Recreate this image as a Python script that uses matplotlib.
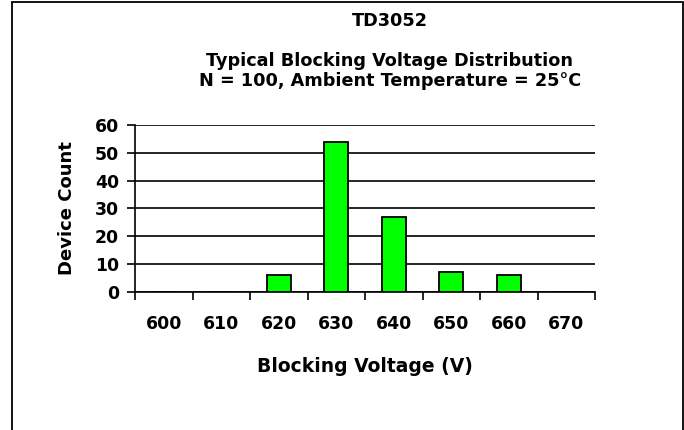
import matplotlib
matplotlib.use("Agg")
import matplotlib.pyplot as plt
from matplotlib.patches import Rectangle

categories = ["600", "610", "620", "630", "640", "650", "660", "670"]
counts = [0, 0, 6, 54, 27, 7, 6, 0]
y_ticks = [0, 10, 20, 30, 40, 50, 60]

plt.rcParams['font.family'] = ['DejaVu Sans']
plt.rcParams['font.weight'] = 'bold'

W, H = 684, 430
fig = plt.figure(figsize=(W / 100, H / 100), dpi=100)
ax = fig.add_axes([135 / W, (H - 291.7) / H, (595 - 135) / W, (291.7 - 125) / H])

x = list(range(len(categories)))
ax.bar(x, counts, width=0.42, color="#00FF00", edgecolor="black", linewidth=1.3, zorder=3)

ax.set_xlim(-0.5, len(categories) - 0.5)
ax.set_ylim(0, 60)
ax.set_yticks(y_ticks)
ax.set_yticklabels([str(v) for v in y_ticks], fontsize=12.4, fontweight='bold')
ax.yaxis.grid(True, color="black", linewidth=1.2, zorder=0)
ax.set_axisbelow(True)

ax.set_xticks([i - 0.5 for i in range(len(categories) + 1)])
ax.set_xticklabels([])
ax.set_xticks(x, minor=True)
ax.set_xticklabels(categories, minor=True, fontsize=12.4, fontweight='bold')
ax.tick_params(axis='x', which='major', direction='out', length=6, width=1.2)
ax.tick_params(axis='x', which='minor', length=0, pad=17)
ax.tick_params(axis='y', direction='out', length=6, width=1.2, pad=5.5)

for s in ['top', 'right']:
    ax.spines[s].set_visible(False)
for s in ['left', 'bottom']:
    ax.spines[s].set_linewidth(1.2)

fig.text(390 / W, 1 - 26.5 / H, "TD3052", ha='center', va='baseline', fontsize=12.7, fontweight='bold')
fig.text(390 / W, 1 - 65.5 / H, "Typical Blocking Voltage Distribution", ha='center', va='baseline', fontsize=12.7, fontweight='bold')
fig.text(390 / W, 1 - 86 / H, "N = 100, Ambient Temperature = 25°C", ha='center', va='baseline', fontsize=12.7, fontweight='bold')

fig.text(67 / W, 1 - 208 / H, "Device Count", rotation=90, ha='center', va='center', fontsize=13, fontweight='bold')
fig.text(365 / W, 1 - 372.5 / H, "Blocking Voltage (V)", ha='center', va='baseline', fontsize=13.5, fontweight='bold')

fig.patches.append(Rectangle((11.5 / W, -0.05), (683 - 11.5) / W, 1.05 - 2 / H,
                             transform=fig.transFigure, fill=False, edgecolor='black', linewidth=1.3))

fig.savefig("out.png", dpi=100)
